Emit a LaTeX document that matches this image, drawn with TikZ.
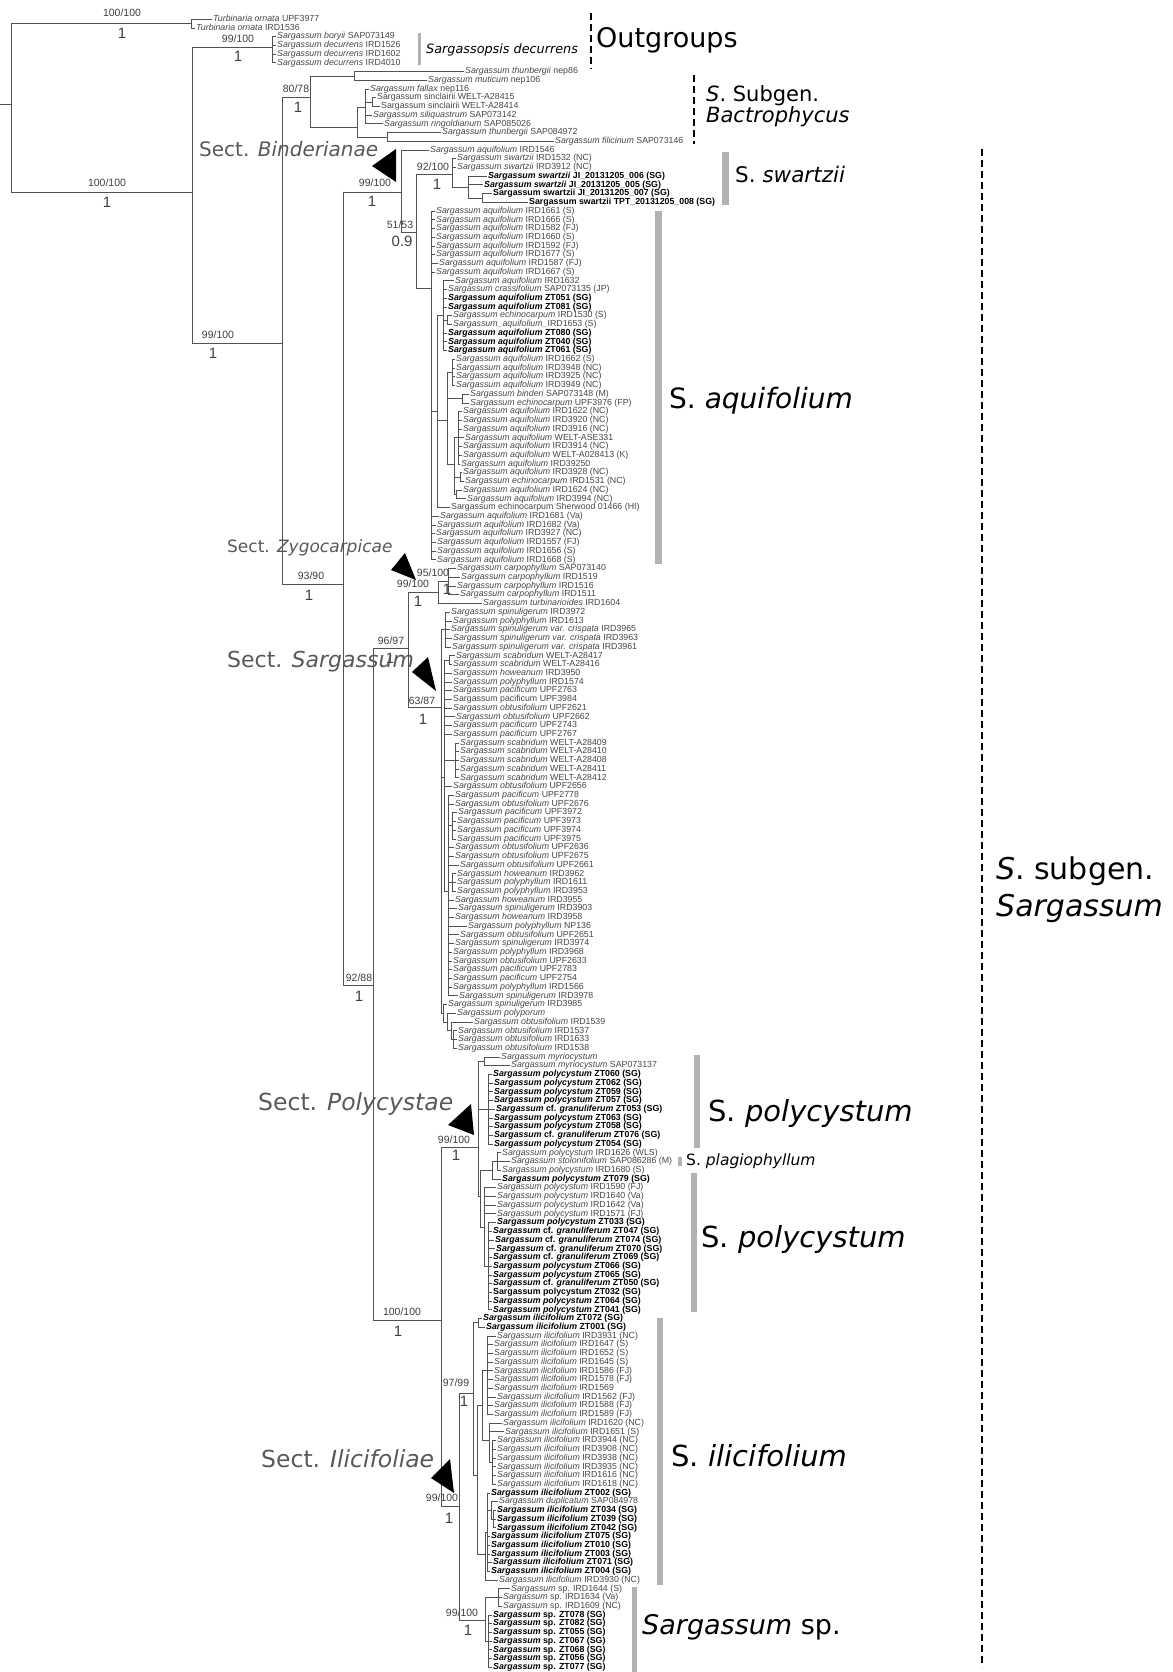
\documentclass[tikz,border=0pt]{standalone}
\usepackage{fontspec}
\setmainfont{Liberation Sans}
\newfontfamily\dv{DejaVu Sans}
\def\YY#1{10.5+8.72*#1}
\newcommand\leafn[5]{%
  \node[#4] (l#1) at (#3,\YY{#1}) {#5};
  \draw[br] (#2,\YY{#1}) -- ([xshift=-1.5pt]l#1.west);}
\begin{document}
\begin{tikzpicture}[x=1pt,y=-1pt,
  br/.style={draw=black!68,line width=0.8pt},
  leaf/.style={anchor=west,inner sep=0pt,text height=6.4pt,text depth=1.9pt,font=\fontsize{8.8}{9}\selectfont,text=black!72},
  bleaf/.style={leaf,font=\fontsize{8.8}{9}\selectfont\bfseries,text=black},
  sup/.style={inner sep=0pt,font=\fontsize{10.5}{11}\selectfont,text=black!75},
  pp/.style={inner sep=0pt,font=\fontsize{15}{15}\selectfont,text=black!75},
  bar/.style={draw=none,fill=black!30},
  dsh/.style={draw=black,line width=1.8pt,dash pattern=on 7pt off 4pt},
  clade/.style={anchor=west,inner sep=0pt},
  sect/.style={anchor=west,inner sep=0pt,text=black!65},
  tri/.style={fill=black,draw=none}
]
\useasboundingbox (0,0) rectangle (1172,1672);
\fill[white] (0,0) rectangle (1172,1672);

% ---------- backbone ----------
\draw[br] (0,104) -- (11,104);
\draw[br] (11,23.6) -- (11,192);
\draw[br] (11,23.6) -- (191,23.6);
\draw[br] (191,\YY1) -- (191,\YY2);
\draw[br] (11,192) -- (192,192);
\draw[br] (192,47) -- (192,343);
\draw[br] (192,47) -- (272,47);
\draw[br] (272,\YY3) -- (272,\YY6);
\draw[br] (192,343) -- (282,343);
\draw[br] (282,97) -- (282,584);
\draw[br] (282,97) -- (310,97);
\draw[br] (310,76) -- (310,127);
\draw[br] (310,76) -- (354,76);
\draw[br] (354,\YY7) -- (354,\YY8);
\draw[br] (310,127) -- (357,127);
\draw[br] (357,107) -- (357,137);
\draw[br] (357,107) -- (365,107);
\draw[br] (365,\YY9) -- (365,\YY{13});
\draw[br] (365,\YY{10.5}) -- (372,\YY{10.5});
\draw[br] (372,\YY{10}) -- (372,\YY{11});
\draw[br] (357,137) -- (387,137);
\draw[br] (387,\YY{14}) -- (387,\YY{15});
\draw[br] (282,584) -- (343,584);
\draw[br] (343,192) -- (343,985);
\draw[br] (343,192) -- (401,192);
\draw[br] (401,\YY{16}) -- (401,232);
\draw[br] (401,232) -- (416,232);
\draw[br] (416,174) -- (416,288);
\draw[br] (416,174) -- (452,174);
\draw[br] (452,\YY{17}) -- (452,187);
\draw[br] (452,187) -- (468,187);
\draw[br] (468,\YY{19}) -- (468,\YY{21.5});
\draw[br] (468,\YY{21.5}) -- (482,\YY{21.5});
\draw[br] (482,\YY{21}) -- (482,\YY{22});
% aquifolium
\draw[br] (416,288) -- (431,288);
\draw[br] (431,\YY{23}) -- (431,\YY{63});
\draw[br] (431,\YY{46}) -- (437,\YY{46});
\draw[br] (437,\YY{35}) -- (437,\YY{57});
\draw[br] (437,\YY{35}) -- (443,\YY{35});
\draw[br] (443,\YY{31}) -- (443,\YY{39});
\draw[br] (443,\YY{35.5}) -- (447,\YY{35.5});
\draw[br] (447,\YY{35}) -- (447,\YY{36});
\draw[br] (437,\YY{47}) -- (447,\YY{47});
\draw[br] (447,\YY{41.5}) -- (447,\YY{52});
\draw[br] (447,\YY{41.5}) -- (452,\YY{41.5});
\draw[br] (452,\YY{40}) -- (452,\YY{43});
\draw[br] (447,\YY{44.5}) -- (462,\YY{44.5});
\draw[br] (462,\YY{44}) -- (462,\YY{45});
\draw[br] (447,\YY{52}) -- (454,\YY{52});
\draw[br] (454,\YY{49}) -- (454,\YY{55.5});
\draw[br] (454,\YY{49}) -- (458,\YY{49});
\draw[br] (458,\YY{46}) -- (458,\YY{52});
\draw[br] (454,\YY{53.5}) -- (460,\YY{53.5});
\draw[br] (460,\YY{53}) -- (460,\YY{54});
\draw[br] (454,\YY{55.5}) -- (456,\YY{55.5});
\draw[br] (456,\YY{55}) -- (456,\YY{56});
% Zygocarpicae / Sargassum
\draw[br] (343,985) -- (373,985);
\draw[br] (373,648) -- (373,1320);
\draw[br] (373,648) -- (408,648);
\draw[br] (408,592) -- (408,707);
\draw[br] (408,592) -- (438,592);
\draw[br] (438,\YY{65.5}) -- (438,\YY{68});
\draw[br] (438,\YY{65.5}) -- (448,\YY{65.5});
\draw[br] (448,\YY{64}) -- (448,\YY{67});
\draw[br] (408,707) -- (441,707);
\draw[br] (441,\YY{71}) -- (441,\YY{115});
\draw[br] (441,\YY{71}) -- (445,\YY{71});
\draw[br] (445,\YY{69}) -- (445,\YY{73});
\draw[br] (441,\YY{88}) -- (444,\YY{88});
\draw[br] (444,\YY{74.5}) -- (444,\YY{101});
\draw[br] (444,\YY{74.5}) -- (449,\YY{74.5});
\draw[br] (449,\YY{74}) -- (449,\YY{75});
\draw[br] (444,\YY{86}) -- (455,\YY{86});
\draw[br] (455,\YY{84}) -- (455,\YY{88});
\draw[br] (444,\YY{101}) -- (448,\YY{101});
\draw[br] (448,\YY{90}) -- (448,\YY{113});
\draw[br] (448,\YY{93.5}) -- (452,\YY{93.5});
\draw[br] (452,\YY{92}) -- (452,\YY{95});
\draw[br] (448,\YY{100}) -- (452,\YY{100});
\draw[br] (452,\YY{99}) -- (452,\YY{101});
\draw[br] (441,\YY{115}) -- (443,\YY{115});
\draw[br] (443,\YY{114}) -- (443,\YY{116});
\draw[br] (443,\YY{116}) -- (447,\YY{116});
\draw[br] (447,\YY{115}) -- (447,\YY{117});
\draw[br] (447,\YY{117}) -- (451,\YY{117});
\draw[br] (451,\YY{116}) -- (451,\YY{118});
\draw[br] (451,\YY{118}) -- (453,\YY{118});
\draw[br] (453,\YY{117}) -- (453,\YY{119});
% Polycystae / Ilicifoliae
\draw[br] (373,1320) -- (441,1320);
\draw[br] (441,1147) -- (441,1506);
\draw[br] (441,1147) -- (478,1147);
\draw[br] (478,\YY{120.5}) -- (478,\YY{136});
\draw[br] (478,\YY{120.5}) -- (484,\YY{120.5});
\draw[br] (484,\YY{120}) -- (484,\YY{121});
\draw[br] (478,\YY{126}) -- (488,\YY{126});
\draw[br] (488,\YY{122}) -- (488,\YY{130});
\draw[br] (478,\YY{136}) -- (480,\YY{136});
\draw[br] (480,\YY{133}) -- (480,\YY{139.5});
\draw[br] (480,\YY{133}) -- (492,\YY{133});
\draw[br] (492,\YY{132}) -- (492,\YY{134});
\draw[br] (492,\YY{132}) -- (497,\YY{132});
\draw[br] (497,\YY{131}) -- (497,\YY{133});
\draw[br] (480,\YY{139.5}) -- (484,\YY{139.5});
\draw[br] (484,\YY{135}) -- (484,\YY{144});
\draw[br] (484,\YY{144}) -- (488,\YY{144});
\draw[br] (488,\YY{139}) -- (488,\YY{149});
\draw[br] (441,1506) -- (459,1506);
\draw[br] (459,1393) -- (459,1620);
\draw[br] (459,1393) -- (473,1393);
\draw[br] (473,\YY{150.5}) -- (473,\YY{168});
\draw[br] (473,\YY{150.5}) -- (478,\YY{150.5});
\draw[br] (478,\YY{150}) -- (478,\YY{151});
\draw[br] (473,\YY{168}) -- (477,\YY{168});
\draw[br] (477,\YY{160}) -- (477,\YY{177});
\draw[br] (477,\YY{160}) -- (482,\YY{160});
\draw[br] (482,\YY{156}) -- (482,\YY{164});
\draw[br] (482,\YY{156}) -- (487,\YY{156});
\draw[br] (487,\YY{152}) -- (487,\YY{161});
\draw[br] (482,\YY{164}) -- (489,\YY{164});
\draw[br] (489,\YY{162}) -- (489,\YY{166.5});
\draw[br] (489,\YY{166.5}) -- (492,\YY{166.5});
\draw[br] (492,\YY{164}) -- (492,\YY{169});
\draw[br] (477,\YY{177}) -- (485,\YY{177});
\draw[br] (485,\YY{174.5}) -- (485,\YY{180});
\draw[br] (485,\YY{174.5}) -- (487,\YY{174.5});
\draw[br] (487,\YY{170}) -- (487,\YY{179});
\draw[br] (487,\YY{172}) -- (491,\YY{172});
\draw[br] (491,\YY{171}) -- (491,\YY{173});
\draw[br] (491,\YY{173}) -- (493,\YY{173});
\draw[br] (493,\YY{172}) -- (493,\YY{174});
\draw[br] (459,1620) -- (485,1620);
\draw[br] (485,\YY{182}) -- (485,\YY{187});
\draw[br] (485,\YY{182}) -- (498,\YY{182});
\draw[br] (498,\YY{181}) -- (498,\YY{183});
\draw[br] (485,\YY{187}) -- (488,\YY{187});
\draw[br] (488,\YY{184}) -- (488,\YY{190});

% ---------- leaves ----------
\leafn{1}{191}{213}{leaf}{\textit{Turbinaria ornata} UPF3977}
\leafn{2}{191}{196}{leaf}{\textit{Turbinaria ornata} IRD1536}
\leafn{3}{272}{277}{leaf}{\textit{Sargassum boryii} SAP073149}
\leafn{4}{272}{277}{leaf}{\textit{Sargassum decurrens} IRD1526}
\leafn{5}{272}{277}{leaf}{\textit{Sargassum decurrens} IRD1602}
\leafn{6}{272}{277}{leaf}{\textit{Sargassum decurrens} IRD4010}
\leafn{7}{354}{465}{leaf}{\textit{Sargassum thunbergii} nep86}
\leafn{8}{354}{428}{leaf}{\textit{Sargassum muticum} nep106}
\leafn{9}{365}{370}{leaf}{\textit{Sargassum fallax} nep116}
\leafn{10}{372}{377}{leaf}{Sargassum sinclairii WELT-A28415}
\leafn{11}{372}{381}{leaf}{Sargassum sinclairii WELT-A28414}
\leafn{12}{365}{373}{leaf}{\textit{Sargassum siliquastrum} SAP073142}
\leafn{13}{365}{384}{leaf}{\textit{Sargassum ringoldianum} SAP085026}
\leafn{14}{387}{442}{leaf}{\textit{Sargassum thunbergii} SAP084972}
\leafn{15}{387}{555}{leaf}{\textit{Sargassum filicinum} SAP073146}
\leafn{16}{401}{430}{leaf}{\textit{Sargassum aquifolium} IRD1546}
\leafn{17}{452}{457}{leaf}{\textit{Sargassum swartzii} IRD1532 (NC)}
\leafn{18}{452}{457}{leaf}{\textit{Sargassum swartzii} IRD3912 (NC)}
\leafn{19}{468}{488}{bleaf}{\textit{Sargassum swartzii} JI\_20131205\_006 (SG)}
\leafn{20}{468}{484}{bleaf}{\textit{Sargassum swartzii} JI\_20131205\_005 (SG)}
\leafn{21}{482}{493}{bleaf}{Sargassum swartzii JI\_20131205\_007 (SG)}
\leafn{22}{482}{529}{bleaf}{Sargassum swartzii TPT\_20131205\_008 (SG)}
\leafn{23}{431}{436}{leaf}{\textit{Sargassum aquifolium} IRD1661 (S)}
\leafn{24}{431}{436}{leaf}{\textit{Sargassum aquifolium} IRD1666 (S)}
\leafn{25}{431}{436}{leaf}{\textit{Sargassum aquifolium} IRD1582 (FJ)}
\leafn{26}{431}{436}{leaf}{\textit{Sargassum aquifolium} IRD1660 (S)}
\leafn{27}{431}{436}{leaf}{\textit{Sargassum aquifolium} IRD1592 (FJ)}
\leafn{28}{431}{436}{leaf}{\textit{Sargassum aquifolium} IRD1677 (S)}
\leafn{29}{431}{439}{leaf}{\textit{Sargassum aquifolium} IRD1587 (FJ)}
\leafn{30}{431}{436}{leaf}{\textit{Sargassum aquifolium} IRD1667 (S)}
\leafn{31}{443}{455}{leaf}{\textit{Sargassum aquifolium} IRD1632}
\leafn{32}{443}{448}{leaf}{\textit{Sargassum crassifolium} SAP073135 (JP)}
\leafn{33}{443}{448}{bleaf}{\textit{Sargassum aquifolium} ZT051 (SG)}
\leafn{34}{443}{448}{bleaf}{\textit{Sargassum aquifolium} ZT081 (SG)}
\leafn{35}{447}{453}{leaf}{\textit{Sargassum echinocarpum} IRD1530 (S)}
\leafn{36}{447}{453}{leaf}{\textit{Sargassum\_aquifolium\_}IRD1653 (S)}
\leafn{37}{443}{448}{bleaf}{\textit{Sargassum aquifolium} ZT080 (SG)}
\leafn{38}{443}{448}{bleaf}{\textit{Sargassum aquifolium} ZT040 (SG)}
\leafn{39}{443}{448}{bleaf}{\textit{Sargassum aquifolium} ZT061 (SG)}
\leafn{40}{452}{456}{leaf}{\textit{Sargassum aquifolium} IRD1662 (S)}
\leafn{41}{452}{456}{leaf}{\textit{Sargassum aquifolium} IRD3948 (NC)}
\leafn{42}{452}{456}{leaf}{\textit{Sargassum aquifolium} IRD3925 (NC)}
\leafn{43}{452}{456}{leaf}{\textit{Sargassum aquifolium} IRD3949 (NC)}
\leafn{44}{462}{470}{leaf}{\textit{Sargassum binderi} SAP073148 (M)}
\leafn{45}{462}{470}{leaf}{\textit{Sargassum echinocarpum} UPF3976 (FP)}
\leafn{46}{458}{463}{leaf}{\textit{Sargassum aquifolium} IRD1622 (NC)}
\leafn{47}{458}{463}{leaf}{\textit{Sargassum aquifolium} IRD3920 (NC)}
\leafn{48}{458}{463}{leaf}{\textit{Sargassum aquifolium} IRD3916 (NC)}
\leafn{49}{458}{465}{leaf}{\textit{Sargassum aquifolium} WELT-ASE331}
\leafn{50}{458}{463}{leaf}{\textit{Sargassum aquifolium} IRD3914 (NC)}
\leafn{51}{458}{463}{leaf}{\textit{Sargassum aquifolium} WELT-A028413 (K)}
\leafn{52}{458}{461}{leaf}{\textit{Sargassum aquifolium} IRD39250}
\leafn{53}{460}{463}{leaf}{\textit{Sargassum aquifolium} IRD3928 (NC)}
\leafn{54}{460}{465}{leaf}{\textit{Sargassum echinocarpum} IRD1531 (NC)}
\leafn{55}{456}{463}{leaf}{\textit{Sargassum aquifolium} IRD1624 (NC)}
\leafn{56}{456}{467}{leaf}{\textit{Sargassum aquifolium} IRD3994 (NC)}
\leafn{57}{437}{451}{leaf}{Sargassum echinocarpum Sherwood 01466 (HI)}
\leafn{58}{431}{440}{leaf}{\textit{Sargassum aquifolium} IRD1681 (Va)}
\leafn{59}{431}{437}{leaf}{\textit{Sargassum aquifolium} IRD1682 (Va)}
\leafn{60}{431}{436}{leaf}{\textit{Sargassum aquifolium} IRD3927 (NC)}
\leafn{61}{431}{437}{leaf}{\textit{Sargassum aquifolium} IRD1557 (FJ)}
\leafn{62}{431}{437}{leaf}{\textit{Sargassum aquifolium} IRD1656 (S)}
\leafn{63}{431}{437}{leaf}{\textit{Sargassum aquifolium} IRD1668 (S)}
\leafn{64}{448}{457}{leaf}{\textit{Sargassum carpophyllum} SAP073140}
\leafn{65}{448}{461}{leaf}{\textit{Sargassum carpophyllum} IRD1519}
\leafn{66}{448}{457}{leaf}{\textit{Sargassum carpophyllum} IRD1516}
\leafn{67}{448}{460}{leaf}{\textit{Sargassum carpophyllum} IRD1511}
\leafn{68}{438}{483}{leaf}{\textit{Sargassum turbinarioides} IRD1604}
\leafn{69}{445}{451}{leaf}{\textit{Sargassum spinuligerum} IRD3972}
\leafn{70}{445}{453}{leaf}{\textit{Sargassum polyphyllum} IRD1613}
\leafn{71}{445}{451}{leaf}{\textit{Sargassum spinuligerum var. crispata} IRD3965}
\leafn{72}{445}{453}{leaf}{\textit{Sargassum spinuligerum var. crispata} IRD3963}
\leafn{73}{445}{452}{leaf}{\textit{Sargassum spinuligerum var. crispata} IRD3961}
\leafn{74}{449}{456}{leaf}{\textit{Sargassum scabridum} WELT-A28417}
\leafn{75}{449}{453}{leaf}{\textit{Sargassum scabridum} WELT-A28416}
\leafn{76}{444}{453}{leaf}{\textit{Sargassum howeanum} IRD3950}
\leafn{77}{444}{453}{leaf}{\textit{Sargassum polyphyllum} IRD1574}
\leafn{78}{444}{453}{leaf}{\textit{Sargassum pacificum} UPF2763}
\leafn{79}{444}{453}{leaf}{Sargassum pacificum UPF3984}
\leafn{80}{444}{453}{leaf}{\textit{Sargassum obtusifolium} UPF2621}
\leafn{81}{444}{456}{leaf}{\textit{Sargassum obtusifolium} UPF2662}
\leafn{82}{444}{453}{leaf}{\textit{Sargassum pacificum} UPF2743}
\leafn{83}{444}{453}{leaf}{\textit{Sargassum pacificum} UPF2767}
\leafn{84}{455}{460}{leaf}{\textit{Sargassum scabridum} WELT-A28409}
\leafn{85}{455}{460}{leaf}{\textit{Sargassum scabridum} WELT-A28410}
\leafn{86}{455}{460}{leaf}{\textit{Sargassum scabridum} WELT-A28408}
\leafn{87}{455}{460}{leaf}{\textit{Sargassum scabridum} WELT-A28411}
\leafn{88}{455}{460}{leaf}{\textit{Sargassum scabridum} WELT-A28412}
\leafn{89}{444}{453}{leaf}{\textit{Sargassum obtusifolium} UPF2656}
\leafn{90}{448}{455}{leaf}{\textit{Sargassum pacificum} UPF2778}
\leafn{91}{448}{455}{leaf}{\textit{Sargassum obtusifolium} UPF2676}
\leafn{92}{452}{458}{leaf}{\textit{Sargassum pacificum} UPF3972}
\leafn{93}{452}{457}{leaf}{\textit{Sargassum pacificum} UPF3973}
\leafn{94}{452}{457}{leaf}{\textit{Sargassum pacificum} UPF3974}
\leafn{95}{452}{457}{leaf}{\textit{Sargassum pacificum} UPF3975}
\leafn{96}{448}{455}{leaf}{\textit{Sargassum obtusifolium} UPF2636}
\leafn{97}{448}{455}{leaf}{\textit{Sargassum obtusifolium} UPF2675}
\leafn{98}{448}{460}{leaf}{\textit{Sargassum obtusifolium} UPF2661}
\leafn{99}{452}{457}{leaf}{\textit{Sargassum howeanum} IRD3962}
\leafn{100}{452}{457}{leaf}{\textit{Sargassum polyphyllum} IRD1611}
\leafn{101}{452}{457}{leaf}{\textit{Sargassum polyphyllum} IRD3953}
\leafn{102}{448}{455}{leaf}{\textit{Sargassum howeanum} IRD3955}
\leafn{103}{448}{458}{leaf}{\textit{Sargassum spinuligerum} IRD3903}
\leafn{104}{448}{455}{leaf}{\textit{Sargassum howeanum} IRD3958}
\leafn{105}{448}{468}{leaf}{\textit{Sargassum polyphyllum} NP136}
\leafn{106}{448}{460}{leaf}{\textit{Sargassum obtusifolium} UPF2651}
\leafn{107}{448}{455}{leaf}{\textit{Sargassum spinuligerum} IRD3974}
\leafn{108}{448}{453}{leaf}{\textit{Sargassum polyphyllum} IRD3968}
\leafn{109}{448}{453}{leaf}{\textit{Sargassum obtusifolium} UPF2633}
\leafn{110}{448}{453}{leaf}{\textit{Sargassum pacificum} UPF2783}
\leafn{111}{448}{453}{leaf}{\textit{Sargassum pacificum} UPF2754}
\leafn{112}{448}{453}{leaf}{\textit{Sargassum polyphyllum} IRD1566}
\leafn{113}{448}{459}{leaf}{\textit{Sargassum spinuligerum} IRD3978}
\leafn{114}{443}{448}{leaf}{\textit{Sargassum spinuligerum} IRD3985}
\leafn{115}{447}{457}{leaf}{\textit{Sargassum polyporum}}
\leafn{116}{451}{474}{leaf}{\textit{Sargassum obtusifolium} IRD1539}
\leafn{117}{453}{458}{leaf}{\textit{Sargassum obtusifolium} IRD1537}
\leafn{118}{453}{458}{leaf}{\textit{Sargassum obtusifolium} IRD1633}
\leafn{119}{453}{458}{leaf}{\textit{Sargassum obtusifolium} IRD1538}
\leafn{120}{484}{501}{leaf}{\textit{Sargassum myriocystum}}
\leafn{121}{484}{511}{leaf}{\textit{Sargassum myriocystum} SAP073137}
\leafn{122}{488}{493}{bleaf}{\textit{Sargassum polycystum} ZT060 (SG)}
\leafn{123}{488}{494}{bleaf}{\textit{Sargassum polycystum} ZT062 (SG)}
\leafn{124}{488}{494}{bleaf}{\textit{Sargassum polycystum} ZT059 (SG)}
\leafn{125}{488}{494}{bleaf}{\textit{Sargassum polycystum} ZT057 (SG)}
\leafn{126}{488}{496}{bleaf}{\textit{Sargassum} cf. \textit{granuliferum} ZT053 (SG)}
\leafn{127}{488}{494}{bleaf}{\textit{Sargassum polycystum} ZT063 (SG)}
\leafn{128}{488}{494}{bleaf}{\textit{Sargassum polycystum} ZT058 (SG)}
\leafn{129}{488}{494}{bleaf}{\textit{Sargassum} cf. \textit{granuliferum} ZT076 (SG)}
\leafn{130}{488}{494}{bleaf}{\textit{Sargassum polycystum} ZT054 (SG)}
\leafn{131}{497}{502}{leaf}{\textit{Sargassum polycystum} IRD1626 (WLS)}
\leafn{132}{497}{511}{leaf}{\textit{Sargassum stolonifolium} SAP086286 (M)}
\leafn{133}{497}{502}{leaf}{\textit{Sargassum polycystum} IRD1680 (S)}
\leafn{134}{492}{502}{bleaf}{\textit{Sargassum polycystum} ZT079 (SG)}
\leafn{135}{484}{497}{leaf}{\textit{Sargassum polycystum} IRD1590 (FJ)}
\leafn{136}{484}{497}{leaf}{\textit{Sargassum polycystum} IRD1640 (Va)}
\leafn{137}{484}{497}{leaf}{\textit{Sargassum polycystum} IRD1642 (Va)}
\leafn{138}{484}{497}{leaf}{\textit{Sargassum polycystum} IRD1571 (FJ)}
\leafn{139}{488}{497}{bleaf}{\textit{Sargassum polycystum} ZT033 (SG)}
\leafn{140}{488}{493}{bleaf}{\textit{Sargassum} cf. \textit{granuliferum} ZT047 (SG)}
\leafn{141}{488}{495}{bleaf}{\textit{Sargassum} cf. \textit{granuliferum} ZT074 (SG)}
\leafn{142}{488}{496}{bleaf}{\textit{Sargassum} cf. \textit{granuliferum} ZT070 (SG)}
\leafn{143}{488}{493}{bleaf}{\textit{Sargassum} cf. \textit{granuliferum} ZT069 (SG)}
\leafn{144}{488}{493}{bleaf}{\textit{Sargassum polycystum} ZT066 (SG)}
\leafn{145}{488}{493}{bleaf}{\textit{Sargassum polycystum} ZT065 (SG)}
\leafn{146}{488}{493}{bleaf}{\textit{Sargassum} cf. \textit{granuliferum} ZT050 (SG)}
\leafn{147}{488}{493}{bleaf}{Sargassum polycystum ZT032 (SG)}
\leafn{148}{488}{493}{bleaf}{\textit{Sargassum polycystum} ZT064 (SG)}
\leafn{149}{488}{493}{bleaf}{\textit{Sargassum polycystum} ZT041 (SG)}
\leafn{150}{478}{483}{bleaf}{\textit{Sargassum ilicifolium} ZT072 (SG)}
\leafn{151}{478}{486}{bleaf}{\textit{Sargassum ilicifolium} ZT001 (SG)}
\leafn{152}{487}{497}{leaf}{\textit{Sargassum ilicifolium} IRD3931 (NC)}
\leafn{153}{487}{494}{leaf}{\textit{Sargassum ilicifolium} IRD1647 (S)}
\leafn{154}{487}{494}{leaf}{\textit{Sargassum ilicifolium} IRD1652 (S)}
\leafn{155}{487}{494}{leaf}{\textit{Sargassum ilicifolium} IRD1645 (S)}
\leafn{156}{487}{494}{leaf}{\textit{Sargassum ilicifolium} IRD1586 (FJ)}
\leafn{157}{487}{494}{leaf}{\textit{Sargassum ilicifolium} IRD1578 (FJ)}
\leafn{158}{487}{494}{leaf}{\textit{Sargassum ilicifolium} IRD1569}
\leafn{159}{487}{497}{leaf}{\textit{Sargassum ilicifolium} IRD1562 (FJ)}
\leafn{160}{487}{494}{leaf}{\textit{Sargassum ilicifolium} IRD1588 (FJ)}
\leafn{161}{487}{494}{leaf}{\textit{Sargassum ilicifolium} IRD1589 (FJ)}
\leafn{162}{489}{503}{leaf}{\textit{Sargassum ilicifolium} IRD1620 (NC)}
\leafn{163}{489}{505}{leaf}{\textit{Sargassum ilicifolium} IRD1651 (S)}
\leafn{164}{492}{497}{leaf}{\textit{Sargassum ilicifolium} IRD3944 (NC)}
\leafn{165}{492}{497}{leaf}{\textit{Sargassum ilicifolium} IRD3908 (NC)}
\leafn{166}{492}{497}{leaf}{\textit{Sargassum ilicifolium} IRD3938 (NC)}
\leafn{167}{492}{497}{leaf}{\textit{Sargassum ilicifolium} IRD3935 (NC)}
\leafn{168}{492}{497}{leaf}{\textit{Sargassum ilicifolium} IRD1616 (NC)}
\leafn{169}{492}{497}{leaf}{\textit{Sargassum ilicifolium} IRD1618 (NC)}
\leafn{170}{487}{491}{bleaf}{\textit{Sargassum ilicifolium} ZT002 (SG)}
\leafn{171}{491}{499}{leaf}{\textit{Sargassum duplicatum} SAP084978}
\leafn{172}{493}{497}{bleaf}{\textit{Sargassum ilicifolium} ZT034 (SG)}
\leafn{173}{493}{497}{bleaf}{\textit{Sargassum ilicifolium} ZT039 (SG)}
\leafn{174}{493}{497}{bleaf}{\textit{Sargassum ilicifolium} ZT042 (SG)}
\leafn{175}{487}{491}{bleaf}{\textit{Sargassum ilicifolium} ZT075 (SG)}
\leafn{176}{487}{491}{bleaf}{\textit{Sargassum ilicifolium} ZT010 (SG)}
\leafn{177}{487}{491}{bleaf}{\textit{Sargassum ilicifolium} ZT003 (SG)}
\leafn{178}{487}{493}{bleaf}{\textit{Sargassum ilicifolium} ZT071 (SG)}
\leafn{179}{487}{491}{bleaf}{\textit{Sargassum ilicifolium} ZT004 (SG)}
\leafn{180}{485}{499}{leaf}{\textit{Sargassum ilicifolium} IRD3930 (NC)}
\leafn{181}{498}{511}{leaf}{\textit{Sargassum} sp. IRD1644 (S)}
\leafn{182}{498}{503}{leaf}{\textit{Sargassum} sp. IRD1634 (Va)}
\leafn{183}{498}{503}{leaf}{\textit{Sargassum} sp. IRD1609 (NC)}
\leafn{184}{488}{493}{bleaf}{\textit{Sargassum} sp. ZT078 (SG)}
\leafn{185}{488}{493}{bleaf}{\textit{Sargassum} sp. ZT082 (SG)}
\leafn{186}{488}{493}{bleaf}{\textit{Sargassum} sp. ZT055 (SG)}
\leafn{187}{488}{493}{bleaf}{\textit{Sargassum} sp. ZT067 (SG)}
\leafn{188}{488}{493}{bleaf}{\textit{Sargassum} sp. ZT068 (SG)}
\leafn{189}{488}{493}{bleaf}{\textit{Sargassum} sp. ZT056 (SG)}
\leafn{190}{488}{493}{bleaf}{\textit{Sargassum} sp. ZT077 (SG)}

% ---------- support values ----------
\node[sup] (s1) at (122,13) {100/100};   \node[pp] (p1) at (122,33) {1};
\node[sup] (s2) at (107,183) {100/100};  \node[pp] (p2) at (107,202) {1};
\node[sup] (s3) at (238,39) {99/100};    \node[pp] (p3) at (238,56) {1};
\node[sup] (s4) at (296,89) {80/78};     \node[pp] (p4) at (298,107) {1};
\node[sup] (s5) at (218,335) {99/100};   \node[pp] (p5) at (213,353) {1};
\node[sup] (s6) at (375,183) {99/100};   \node[pp] (p6) at (372,201) {1};
\node[sup] (s7) at (400,225) {51/53};    \node[pp] (p7) at (402,241) {0.9};
\node[sup] (s8) at (433,167) {92/100};   \node[pp] (p8) at (437,184) {1};
\node[sup] (s9) at (311,576) {93/90};    \node[pp] (p9) at (309,595) {1};
\node[sup] (s10) at (413,584) {99/100};  \node[pp] (p10) at (418,601) {1};
\node[sup] (s11) at (433,573) {95/100};  \node[pp] (p11) at (447,589) {1};
\node[sup] (s12) at (391,641) {96/97};   \node[pp] (p12) at (390,658) {1};
\node[sup] (s13) at (422,701) {63/87};   \node[pp] (p13) at (423,719) {1};
\node[sup] (s14) at (359,978) {92/88};   \node[pp] (p14) at (359,996) {1};
\node[sup] (s15) at (402,1312) {100/100};\node[pp] (p15) at (398,1331) {1};
\node[sup] (s16) at (454,1140) {99/100}; \node[pp] (p16) at (456,1155) {1};
\node[sup] (s17) at (456,1383) {97/99};  \node[pp] (p17) at (464,1401) {1};
\node[sup] (s18) at (442,1498) {99/100}; \node[pp] (p18) at (449,1518) {1};
\node[sup] (s19) at (462,1613) {99/100}; \node[pp] (p19) at (468,1630) {1};

% ---------- triangles ----------
\fill[tri] (372,166) -- (396,149) -- (396,182) -- cycle;
\fill[tri] (391,570) -- (405,553) -- (416,580) -- cycle;
\fill[tri] (412,672) -- (428,657) -- (436,691) -- cycle;
\fill[tri] (448,1125) -- (471,1104) -- (474,1135) -- cycle;
\fill[tri] (431,1478) -- (450,1459) -- (454,1493) -- cycle;

% ---------- bars ----------
\fill[bar] (418,33) rectangle (420.5,65);
\fill[bar] (722,152) rectangle (729,205);
\fill[bar] (655,211) rectangle (662,564);
\fill[bar] (694,1055) rectangle (700,1148);
\fill[bar] (678,1157) rectangle (682,1166);
\fill[bar] (691,1173) rectangle (697,1312);
\fill[bar] (657,1318) rectangle (663,1585);
\fill[bar] (632,1587) rectangle (637,1672);

% ---------- dashed lines ----------
\draw[dsh] (591,13) -- (591,69);
\draw[dsh] (694,75) -- (694,144);
\draw[dsh] (982,149) -- (982,1667);

% ---------- clade labels ----------
\node[clade,font=\dv\fontsize{12.8}{14}\selectfont\itshape] (cSd) at (426,50) {Sargassopsis decurrens};
\node[clade,font=\dv\fontsize{27}{30}\selectfont] (cOut) at (596,40) {Outgroups};
\node[clade,font=\dv\fontsize{21}{22}\selectfont] (cBa1) at (706,96) {\textit{S}. Subgen.};
\node[clade,font=\dv\fontsize{21}{22}\selectfont\itshape] (cBa2) at (706,117) {Bactrophycus};
\node[clade,font=\dv\fontsize{21.5}{22}\selectfont] (cSw) at (735,174) {S. \textit{swartzii}};
\node[clade,font=\dv\fontsize{28}{30}\selectfont] (cAq) at (669,401) {S. \textit{aquifolium}};
\node[clade,font=\dv\fontsize{29}{30}\selectfont] (cPo1) at (708,1113) {S. \textit{polycystum}};
\node[clade,font=\dv\fontsize{15.5}{16}\selectfont] (cPl) at (686,1161) {S. \textit{plagiophyllum}};
\node[clade,font=\dv\fontsize{29}{30}\selectfont] (cPo2) at (701,1239) {S. \textit{polycystum}};
\node[clade,font=\dv\fontsize{29}{30}\selectfont] (cIl) at (671,1456) {S. \textit{ilicifolium}};
\node[clade,font=\dv\fontsize{27}{30}\selectfont] (cSp) at (642,1627) {\textit{Sargassum} sp.};
\node[clade,font=\dv\fontsize{30}{32}\selectfont] (cSub1) at (996,871) {\textit{S}. subgen.};
\node[clade,font=\dv\fontsize{30}{32}\selectfont\itshape] (cSub2) at (996,908) {Sargassum};

% ---------- section labels ----------
\node[sect,font=\dv\fontsize{20}{22}\selectfont] (sBi) at (199,149) {Sect. \textit{Binderianae}};
\node[sect,font=\dv\fontsize{17}{18}\selectfont] (sZy) at (227,548) {Sect. \textit{Zygocarpicae}};
\node[sect,font=\dv\fontsize{22}{24}\selectfont] (sSa) at (227,662) {Sect. \textit{Sargassum}};
\node[sect,font=\dv\fontsize{23.5}{25}\selectfont] (sPo) at (258,1104) {Sect. \textit{Polycystae}};
\node[sect,font=\dv\fontsize{23.5}{25}\selectfont] (sIl) at (261,1459) {Sect. \textit{Ilicifoliae}};
\end{tikzpicture}
\end{document}
